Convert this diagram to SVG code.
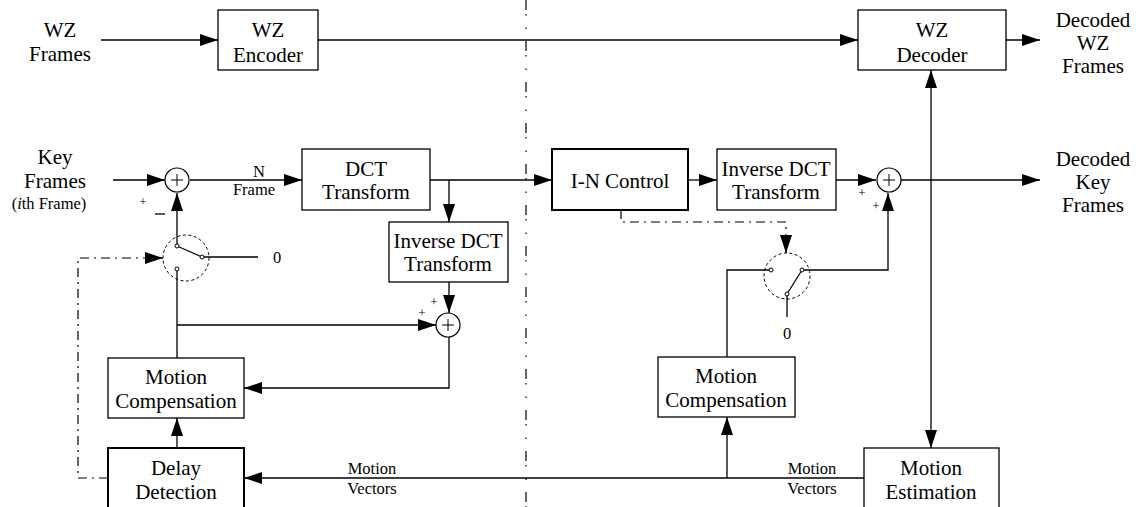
<svg xmlns="http://www.w3.org/2000/svg" width="1136" height="507" viewBox="0 0 1136 507" font-family="'Liberation Serif', 'Times New Roman', 'DejaVu Serif', serif">
<defs>
<marker id="ah" markerUnits="userSpaceOnUse" markerWidth="18" markerHeight="12" refX="18" refY="6" orient="auto">
<path d="M0,0 L18,6 L0,12 z" fill="#000"/>
</marker>
<style>
text{font-family:"Liberation Serif","Times New Roman","DejaVu Serif",serif;fill:#000;text-anchor:middle}
.t{font-size:21px}
.s{font-size:16.5px}
.xs{font-size:13px}
.box{fill:#fff;stroke:#000;stroke-width:1.3}
.thick{stroke-width:2}
.ln{fill:none;stroke:#000;stroke-width:1.3}
.arr{fill:none;stroke:#000;stroke-width:1.3;marker-end:url(#ah)}
.dd{fill:none;stroke:#000;stroke-width:1.2;stroke-dasharray:9 5 2 5}
.sep{fill:none;stroke:#000;stroke-width:1.2;stroke-dasharray:10 4 1.5 12 1.5 12}
.sw{fill:none;stroke:#000;stroke-width:1;stroke-dasharray:3 2.5}
.sum{fill:#fff;stroke:#000;stroke-width:1.2}
.ct{fill:#fff;stroke:#000;stroke-width:1}
</style>
</defs>

<g id="separator">
<line class="sep" x1="526" y1="0" x2="526" y2="507"/>
</g>

<g id="connectors">
<line class="arr" x1="101" y1="40" x2="218" y2="40"/>
<line class="arr" x1="318" y1="40" x2="858" y2="40"/>
<line class="arr" x1="1006" y1="40" x2="1040" y2="40"/>
<line class="arr" x1="113" y1="180" x2="165" y2="180"/>
<line class="arr" x1="190" y1="180" x2="302" y2="180"/>
<line class="arr" x1="430" y1="180" x2="552" y2="180"/>
<line class="arr" x1="449" y1="180" x2="449" y2="222"/>
<line class="arr" x1="449" y1="282" x2="449" y2="313"/>
<line class="arr" x1="177" y1="246" x2="177" y2="193"/>
<line class="ln" x1="202" y1="257" x2="258" y2="257"/>
<line class="ln" x1="177" y1="270" x2="177" y2="358"/>
<line class="arr" x1="177" y1="325" x2="436" y2="325"/>
<polyline class="arr" points="449,337 449,388 244,388"/>
<line class="arr" x1="177" y1="448" x2="177" y2="418"/>
<polyline class="dd" points="108,478 78,478 78,258 152,258"/>
<line class="arr" x1="150" y1="258" x2="163" y2="258"/>
<line class="arr" x1="688" y1="180" x2="717" y2="180"/>
<line class="arr" x1="836" y1="180" x2="876" y2="180"/>
<line class="arr" x1="901" y1="180" x2="1040" y2="180"/>
<line class="arr" x1="931" y1="180" x2="931" y2="70"/>
<line class="arr" x1="931" y1="180" x2="931" y2="448"/>
<polyline class="arr" points="802,270 888,270 888,193"/>
<polyline class="ln" points="771,270 727,270 727,357"/>
<line class="ln" x1="787" y1="294" x2="787" y2="317"/>
<polyline class="dd" points="621,210 621,222 786,222 786,240"/>
<line class="arr" x1="786" y1="236" x2="786" y2="253"/>
<line class="arr" x1="864" y1="478" x2="244" y2="478"/>
<line class="arr" x1="727" y1="478" x2="727" y2="417"/>
</g>

<g id="wz-frames-label">
<text class="t" x="60" y="37">WZ</text>
<text class="t" x="60" y="61">Frames</text>
</g>

<g id="wz-encoder">
<rect class="box" x="218" y="10" width="100" height="60"/>
<text class="t" x="268" y="37">WZ</text>
<text class="t" x="268" y="62">Encoder</text>
</g>

<g id="wz-decoder">
<rect class="box" x="858" y="10" width="148" height="60"/>
<text class="t" x="932" y="37">WZ</text>
<text class="t" x="932" y="62">Decoder</text>
</g>

<g id="decoded-wz-label">
<text class="t" x="1093" y="27">Decoded</text>
<text class="t" x="1093" y="50">WZ</text>
<text class="t" x="1093" y="73">Frames</text>
</g>

<g id="key-frames-label">
<text class="t" x="55" y="164">Key</text>
<text class="t" x="55" y="188">Frames</text>
<text class="s" x="49" y="209">(<tspan font-style="italic">i</tspan>th Frame)</text>
<text class="xs" x="143" y="206">+</text>
<line x1="155" y1="214" x2="165" y2="214" stroke="#000" stroke-width="1.3"/>
</g>

<g id="sum-left">
<circle class="sum" cx="177" cy="180" r="12"/>
<path d="M171,180 H183 M177,174 V186" stroke="#000" stroke-width="1"/>
</g>

<g id="n-frame-label">
<text class="s" x="259" y="177">N</text>
<text class="s" x="254" y="195">Frame</text>
</g>

<g id="dct-transform">
<rect class="box" x="302" y="149" width="128" height="61"/>
<text class="t" x="366" y="176">DCT</text>
<text class="t" x="366" y="199">Transform</text>
</g>

<g id="inverse-dct-left">
<rect class="box" x="389" y="222" width="119" height="60"/>
<text class="t" x="448" y="248">Inverse DCT</text>
<text class="t" x="448" y="271">Transform</text>
</g>

<g id="switch-left">
<circle class="sw" cx="186" cy="258" r="23"/>
<line x1="177" y1="246" x2="202" y2="257" stroke="#000" stroke-width="1.2"/>
<circle class="ct" cx="177" cy="246" r="2"/>
<circle class="ct" cx="202" cy="257" r="2"/>
<circle class="ct" cx="177" cy="269" r="2"/>
<text class="s" x="277" y="263">0</text>
</g>

<g id="sum-middle">
<circle class="sum" cx="448" cy="325" r="12"/>
<path d="M442,325 H454 M448,319 V331" stroke="#000" stroke-width="1"/>
<text class="xs" x="434" y="306">+</text>
<text class="xs" x="422" y="317">+</text>
</g>

<g id="motion-compensation-left">
<rect class="box" x="108" y="358" width="136" height="60"/>
<text class="t" x="176" y="384">Motion</text>
<text class="t" x="176" y="408">Compensation</text>
</g>

<g id="delay-detection">
<rect class="box thick" x="108" y="448" width="136" height="70"/>
<text class="t" x="176" y="475">Delay</text>
<text class="t" x="176" y="499">Detection</text>
</g>

<g id="motion-vectors-left">
<text class="s" x="372" y="474">Motion</text>
<text class="s" x="372" y="494">Vectors</text>
</g>

<g id="in-control">
<rect class="box thick" x="552" y="149" width="136" height="61"/>
<text class="t" x="620" y="188">I-N Control</text>
</g>

<g id="inverse-dct-right">
<rect class="box" x="717" y="149" width="119" height="61"/>
<text class="t" x="776" y="176">Inverse DCT</text>
<text class="t" x="776" y="199">Transform</text>
</g>

<g id="sum-right">
<circle class="sum" cx="889" cy="180" r="12"/>
<path d="M883,180 H895 M889,174 V186" stroke="#000" stroke-width="1"/>
<text class="xs" x="862" y="197">+</text>
<text class="xs" x="876" y="210">+</text>
</g>

<g id="decoded-key-label">
<text class="t" x="1093" y="166">Decoded</text>
<text class="t" x="1093" y="189">Key</text>
<text class="t" x="1093" y="212">Frames</text>
</g>

<g id="switch-right">
<circle class="sw" cx="787" cy="276" r="23"/>
<line x1="787" y1="294" x2="802" y2="270" stroke="#000" stroke-width="1.2"/>
<circle class="ct" cx="771" cy="270" r="2"/>
<circle class="ct" cx="802" cy="270" r="2"/>
<circle class="ct" cx="787" cy="294" r="2"/>
<text class="s" x="787" y="339">0</text>
</g>

<g id="motion-compensation-right">
<rect class="box" x="658" y="357" width="137" height="60"/>
<text class="t" x="726" y="383">Motion</text>
<text class="t" x="726" y="407">Compensation</text>
</g>

<g id="motion-estimation">
<rect class="box" x="864" y="448" width="135" height="70"/>
<text class="t" x="931" y="475">Motion</text>
<text class="t" x="931" y="499">Estimation</text>
</g>

<g id="motion-vectors-right">
<text class="s" x="812" y="474">Motion</text>
<text class="s" x="812" y="494">Vectors</text>
</g>
</svg>
